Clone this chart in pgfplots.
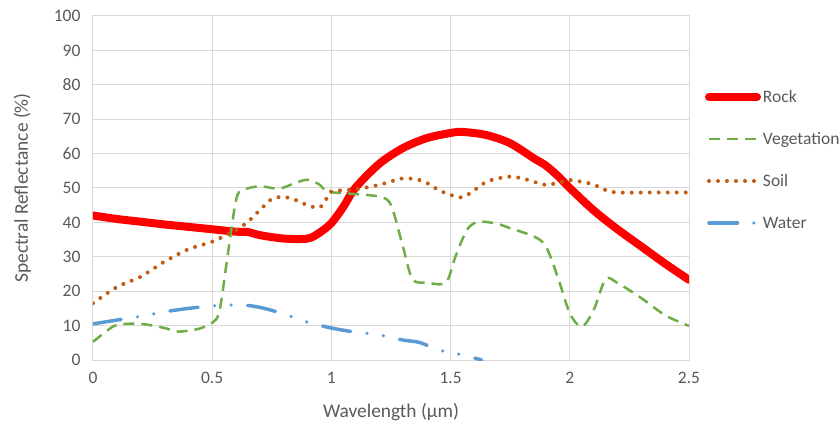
\documentclass[border=0pt]{standalone}
\usepackage{fontspec}
\setmainfont{Carlito}
\usepackage{pgfplots}
\pgfplotsset{compat=1.18}
\definecolor{rockred}{RGB}{255,0,0}
\definecolor{veggreen}{RGB}{112,173,71}
\definecolor{soilorange}{RGB}{197,90,17}
\definecolor{waterblue}{RGB}{91,155,213}
\definecolor{gridgray}{RGB}{217,217,217}
\definecolor{textgray}{RGB}{89,89,89}
\begin{document}
\begin{tikzpicture}
\begin{axis}[
  scale only axis, width=596bp, height=344bp,
  xmin=0, xmax=2.5, ymin=0, ymax=100,
  xtick={0,0.5,1,1.5,2,2.5}, xticklabels={0,0.5,1,1.5,2,2.5},
  ytick={0,10,...,100}, yticklabels={0,10,20,30,40,50,60,70,80,90,100},
  major tick length=0pt,
  grid=major, grid style={gridgray, line width=1bp},
  axis line style={gridgray, line width=1bp},
  tick label style={font=\fontsize{17.5bp}{21bp}\selectfont, text=textgray},
  xticklabel style={yshift=-9bp},
  yticklabel style={xshift=-9bp},
  xlabel={Wavelength (µm)},
  ylabel={Spectral Reflectance (\%)},
  label style={font=\fontsize{19.4bp}{23bp}\selectfont, text=textgray},
  xlabel style={at={(axis description cs:0.5,-0.1686)}, anchor=base},
  ylabel style={at={(axis description cs:-0.1091,0.5)}, anchor=base, rotate=0},
  legend image code/.code={\draw[#1] (0bp,0bp) -- (48bp,0bp);},
  legend cell align=left,
  legend style={at={(axis description cs:1.0268,0.5814)}, anchor=west,
    draw=none, fill=none, inner sep=0pt, outer sep=0pt,
    font=\fontsize{17.5bp}{21bp}\selectfont, text=textgray,
    nodes={inner sep=0pt, text height=13.2bp, text depth=2bp},
    /tikz/column sep=2bp, /tikz/row sep=26.8bp},
]
\addplot[rockred, line width=8bp, line cap=round, smooth] coordinates {
(0,42) (0.1,41) (0.2,40.2) (0.3,39.4) (0.4,38.7) (0.5,38) (0.6,37.3) (0.65,37.2)
(0.7,36.3) (0.8,35.3) (0.9,35.3) (0.95,37) (1.0,39.8) (1.05,44.5) (1.1,50)
(1.2,57) (1.3,61.6) (1.4,64.5) (1.5,66) (1.55,66.3) (1.65,65.4) (1.75,63)
(1.85,58.6) (1.9,56.5) (1.95,53.5) (2.0,50) (2.1,43.5) (2.2,38) (2.3,33)
(2.4,28) (2.5,23.3)};
\addlegendentry{Rock}
\addplot[veggreen, line width=2.5bp, dash pattern=on 11bp off 7bp, smooth] coordinates {
(0,5.3) (0.05,8) (0.1,10.2) (0.2,10.5) (0.3,9.3) (0.35,8.3) (0.4,8.5) (0.45,9.2)
(0.5,10.8) (0.53,14) (0.56,28) (0.6,46.5) (0.63,49.4) (0.7,50.5) (0.78,49.8)
(0.85,51.5) (0.9,52.4) (0.95,51) (0.98,49) (1.05,48.5) (1.2,47.5) (1.25,45)
(1.3,33) (1.34,23.5) (1.4,22.5) (1.48,22.5) (1.52,30) (1.57,38) (1.62,40.2)
(1.7,39.5) (1.75,38.3) (1.85,35.9) (1.9,33) (1.95,24) (2.0,13.6) (2.05,9.7)
(2.1,14.5) (2.15,23.5) (2.2,22.4) (2.3,18) (2.4,13) (2.5,9.9)};
\addlegendentry{Vegetation}
\addplot[soilorange, line width=4bp, line cap=round, dash pattern=on 0bp off 9bp, smooth] coordinates {
(0,16.5) (0.1,21.2) (0.2,24.2) (0.3,28.6) (0.4,32.2) (0.5,34.4) (0.6,37.8)
(0.65,40.2) (0.7,43.6) (0.75,46.8) (0.8,47.4) (0.85,46.5) (0.9,45) (0.95,44.3)
(0.98,47) (1.0,49) (1.1,49.6) (1.2,50.9) (1.3,52.8) (1.37,52.3) (1.4,51.5)
(1.45,49.4) (1.5,48) (1.55,47.3) (1.6,49.4) (1.65,51.8) (1.7,52.8) (1.75,53.3)
(1.8,52.8) (1.85,51.8) (1.9,50.9) (1.95,51.5) (2.0,52.3) (2.05,51.8) (2.1,51)
(2.15,49.4) (2.2,48.7) (2.35,48.7) (2.5,48.7)};
\addlegendentry{Soil}
\addplot[waterblue, line width=3.5bp, line cap=round,
  dash pattern=on 28.5bp off 16.5bp on 0bp off 16.5bp on 0bp off 16.5bp, smooth] coordinates {
(0,10.5) (0.1,11.6) (0.2,12.7) (0.3,14) (0.4,15) (0.5,15.7) (0.62,16) (0.7,15.3)
(0.8,13.4) (0.9,11) (1.0,9.3) (1.1,8.1) (1.2,7.3) (1.3,5.8) (1.37,5.1)
(1.45,2.9) (1.55,1.5) (1.63,0)};
\addlegendentry{Water}
\end{axis}
\pgfresetboundingbox
\path[use as bounding box] (-93bp,-65bp) rectangle (747bp,360bp);
\end{tikzpicture}
\end{document}
